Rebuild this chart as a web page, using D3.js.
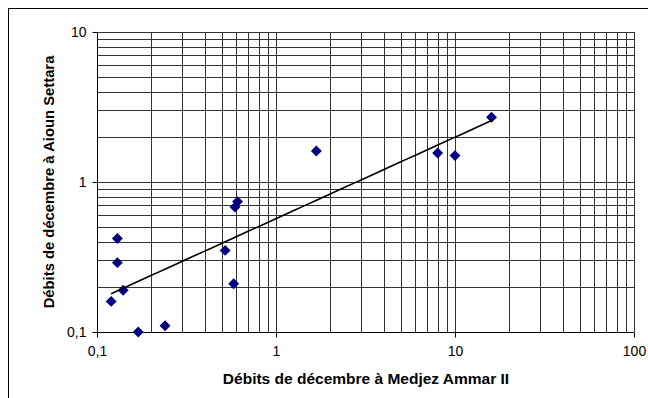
<!DOCTYPE html>
<html>
<head>
<meta charset="utf-8">
<script src="https://cdn.jsdelivr.net/npm/d3@7"></script>
<style>
html,body{margin:0;padding:0;background:#fff;}
svg{display:block;font-family:Arial,"Liberation Sans",sans-serif;}
</style>
</head>
<body>
<svg id="chart" width="648" height="398"></svg>
<script>
// Data: December discharges
const medjezAmmar = [0.12, 0.13, 0.13, 0.14, 0.17, 0.24, 0.52, 0.58, 0.59, 0.61, 1.68, 8.0, 10.0, 16.0];
const aiounSettara = [0.16, 0.42, 0.29, 0.19, 0.10, 0.11, 0.35, 0.21, 0.68, 0.74, 1.61, 1.56, 1.50, 2.70];
const xTickLabels = ["0,1", "1", "10", "100"];
const xTickValues = [0.1, 1, 10, 100];
const yTickLabels = ["0,1", "1", "10"];
const yTickValues = [0.1, 1, 10];
const xTitle = "Débits de décembre à Medjez Ammar II";
const yTitle = "Débits de décembre à Aioun Settara";

(function () {
const svg = d3.select("#chart");
const pLeft = 97, pRight = 634, pTop = 32, pBottom = 332;

const x = d3.scaleLog().domain([0.1, 100]).range([pLeft, pRight]);
const y = d3.scaleLog().domain([0.1, 10]).range([pBottom, pTop]);

// Outer chart border (extends past right/bottom edge)
svg.append("rect").attr("x", 8.5).attr("y", 8.5).attr("width", 700).attr("height", 500)
  .attr("fill", "none").attr("stroke", "#000").attr("stroke-width", 1);

function gridVals(lo, hi) {
  const v = [];
  for (let e = Math.round(Math.log10(lo)); e < Math.round(Math.log10(hi)); e++) {
    for (let k = 1; k <= 9; k++) v.push(k * Math.pow(10, e));
  }
  v.push(hi);
  return v;
}
const g = svg.append("g").attr("shape-rendering", "crispEdges");
g.selectAll(".vg").data(gridVals(0.1, 100)).join("line").attr("class", "vg")
  .attr("x1", d => Math.round(x(d)) + 0.5).attr("x2", d => Math.round(x(d)) + 0.5)
  .attr("y1", pTop).attr("y2", pBottom)
  .attr("stroke", "#333").attr("stroke-width", 1);
g.selectAll(".hg").data(gridVals(0.1, 10)).join("line").attr("class", "hg")
  .attr("y1", d => Math.round(y(d)) + 0.5).attr("y2", d => Math.round(y(d)) + 0.5)
  .attr("x1", pLeft).attr("x2", pRight)
  .attr("stroke", "#333").attr("stroke-width", 1);

// Axes
const xAxis = d3.axisBottom(x).tickValues(xTickValues)
  .tickFormat((d, i) => xTickLabels[i]).tickSize(5).tickPadding(9);
const yAxis = d3.axisLeft(y).tickValues(yTickValues)
  .tickFormat((d, i) => yTickLabels[i]).tickSize(5).tickPadding(6);

const gx = svg.append("g").attr("transform", `translate(0,${pBottom + 0.5})`).call(xAxis);
const gy = svg.append("g").attr("transform", `translate(${pLeft + 0.5},0)`).call(yAxis);
[gx, gy].forEach(a => {
  a.attr("font-family", "Arial, 'Liberation Sans', sans-serif").attr("font-size", 14);
  a.select(".domain").attr("stroke", "#000");
  a.selectAll(".tick line").attr("stroke", "#000");
  a.selectAll("text").attr("fill", "#000");
});
gx.select(".domain").attr("d", `M${pLeft},0H${pRight}`);
gy.select(".domain").attr("d", `M0,${pTop}V${pBottom}`);

// Power trendline (least squares in log-log space)
const lx = medjezAmmar.map(Math.log10), ly = aiounSettara.map(Math.log10);
const mx = d3.mean(lx), my = d3.mean(ly);
const b = d3.sum(lx.map((v, i) => (v - mx) * (ly[i] - my))) / d3.sum(lx.map(v => (v - mx) ** 2));
const a = my - b * mx;
const xmin = d3.min(medjezAmmar), xmax = d3.max(medjezAmmar);
const trend = d3.range(0, 51).map(i => {
  const xv = Math.pow(10, Math.log10(xmin) + (Math.log10(xmax) - Math.log10(xmin)) * i / 50);
  return [xv, Math.pow(10, a + b * Math.log10(xv))];
});

// Points
const pts = medjezAmmar.map((v, i) => [v, aiounSettara[i]]);
svg.append("g").selectAll("path").data(pts).join("path")
  .attr("d", d3.symbol().type(d3.symbolDiamond2).size(76))
  .attr("transform", d => `translate(${x(d[0])},${y(d[1])})`)
  .attr("fill", "#000080");

svg.append("path").datum(trend)
  .attr("d", d3.line().x(d => x(d[0])).y(d => y(d[1])))
  .attr("fill", "none").attr("stroke", "#000").attr("stroke-width", 1.6);

// Titles
svg.append("text").attr("x", 366).attr("y", 384)
  .attr("text-anchor", "middle").attr("font-size", 15.5).attr("font-weight", "bold")
  .text(xTitle);
svg.append("text").attr("transform", `translate(54,182) rotate(-90)`)
  .attr("text-anchor", "middle").attr("font-size", 14.8).attr("font-weight", "bold")
  .text(yTitle);
})();
</script>
</body>
</html>
